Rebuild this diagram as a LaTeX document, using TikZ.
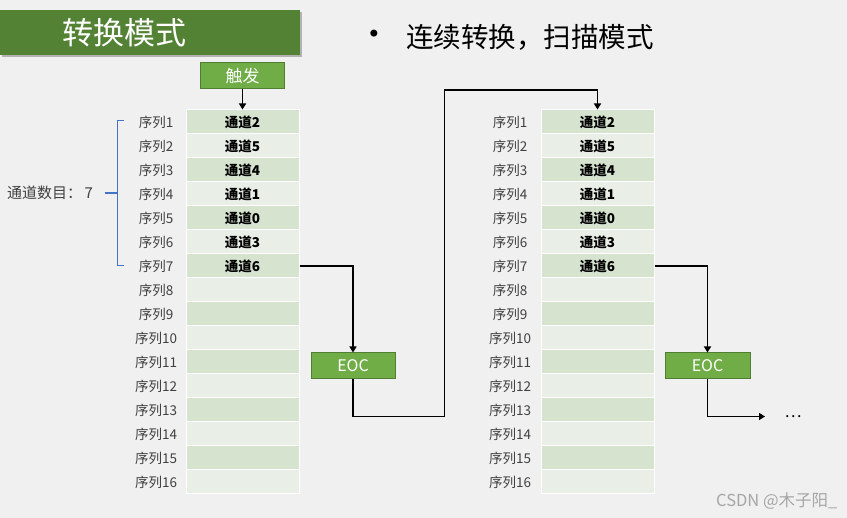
\documentclass[tikz,border=0pt]{standalone}
\usepackage{fontspec}
\setmainfont{Noto Sans CJK SC}
\newfontfamily\dejavu{DejaVu Sans}
\usetikzlibrary{arrows.meta}
\definecolor{bg}{HTML}{F0F0F0}
\definecolor{titlegreen}{HTML}{548235}
\definecolor{boxgreen}{HTML}{70AD47}
\definecolor{boxborder}{HTML}{507E32}
\definecolor{rowdark}{HTML}{D5E3CF}
\definecolor{rowlight}{HTML}{E9EFE6}
\definecolor{bracecol}{HTML}{4472C4}
\definecolor{lblcol}{HTML}{404040}
\definecolor{wmcol}{HTML}{A6A6A6}
\begin{document}
\begin{tikzpicture}[x=1pt,y=-1pt,
  cell/.style={draw=white,line width=1pt,minimum width=113pt,minimum height=24pt,inner sep=0pt,
    font=\fontsize{13.5}{16}\selectfont\bfseries,text=black},
  seqlbl/.style={inner sep=0pt,font=\fontsize{13.5}{16}\selectfont,text=lblcol},
  gbox/.style={fill=boxgreen,draw=boxborder,line width=1pt,inner sep=0pt,text=white,
    minimum height=26pt},
  conn/.style={draw=black,line width=1.8pt},
  tip/.style={-{Triangle[length=6pt,width=7pt]}}]
\fill[bg] (0,0) rectangle (847,518);
\useasboundingbox (0,0) rectangle (847,518);
% title
\fill[black!30] (2,12) rectangle (302,57);
\node[fill=titlegreen,minimum width=300pt,minimum height=45pt,inner sep=0pt] (titlebox) at (150,32.5) {};
\node[text=white,inner sep=0pt,font=\fontsize{31}{36}\selectfont] (title) at (124.5,33) {转换模式};
% bullet headline
\node[inner sep=0pt,font=\dejavu\fontsize{24}{28}\selectfont] (bullet) at (374,36) {•};
\node[anchor=west,inner sep=0pt,font=\fontsize{27.5}{32}\selectfont] (headline) at (406,37) {连续转换，扫描模式};
% trigger
\node[gbox,minimum width=84pt,font=\fontsize{17}{20}\selectfont] (trig) at (242.5,76) {触发};
% left table
\foreach \i/\c in {1/2,2/5,3/4,4/1,5/0,6/3,7/6} {
  \ifodd\i\def\rc{rowdark}\else\def\rc{rowlight}\fi
  \node[cell,fill=\rc] (a\i) at (242.5,{122+24*(\i-1)}) {通道\c};
}
\foreach \i in {8,...,16} {
  \ifodd\i\def\rc{rowdark}\else\def\rc{rowlight}\fi
  \node[cell,fill=\rc] (a\i) at (242.5,{122+24*(\i-1)}) {};
}
\foreach \i in {1,...,16} {
  \node[seqlbl] (la\i) at (156,{122+24*(\i-1)}) {序列\i};
}
% right table
\foreach \i/\c in {1/2,2/5,3/4,4/1,5/0,6/3,7/6} {
  \ifodd\i\def\rc{rowdark}\else\def\rc{rowlight}\fi
  \node[cell,fill=\rc] (b\i) at (597.5,{122+24*(\i-1)}) {通道\c};
}
\foreach \i in {8,...,16} {
  \ifodd\i\def\rc{rowdark}\else\def\rc{rowlight}\fi
  \node[cell,fill=\rc] (b\i) at (597.5,{122+24*(\i-1)}) {};
}
\foreach \i in {1,...,16} {
  \node[seqlbl] (lb\i) at (510,{122+24*(\i-1)}) {序列\i};
}
% brace
\draw[bracecol,line width=1.1pt] (124,120.5) -- (117.5,120.5) -- (117.5,265.5) -- (124,265.5);
\draw[bracecol,line width=1.1pt] (117.5,193) -- (105,193);
\node[anchor=west,inner sep=0pt,font=\fontsize{15}{18}\selectfont,text=lblcol] (count) at (7,193) {通道数目：\,7};
% EOC boxes
\node[gbox,minimum width=84pt,font=\fontsize{16}{19}\selectfont] (eoc1) at (353,366) {EOC};
\node[gbox,minimum width=85pt,font=\fontsize{16}{19}\selectfont] (eoc2) at (707.5,366) {EOC};
\coordinate (c1) at (444.5,416.5);
\coordinate (c2) at (444.5,90);
\coordinate (c3) at (765,416.5);
% connectors
\draw[conn,tip] (trig.south) -- (a1.north);
\draw[conn,tip] (a7.east) -| (eoc1.north);
\draw[conn,tip] (eoc1.south) |- (c1) -- (c2) -| (b1.north);
\draw[conn,tip] (b7.east) -| (eoc2.north);
\draw[conn,tip] (eoc2.south) |- (c3);
\node[inner sep=0pt,font=\fontsize{16}{19}\selectfont] (dots) at (793,416.5) {…};
% watermark
\node[anchor=west,inner sep=0pt,font=\fontsize{16.5}{19}\selectfont,text=wmcol] (wm) at (716,501) {CSDN @木子阳\_};
\end{tikzpicture}
\end{document}
